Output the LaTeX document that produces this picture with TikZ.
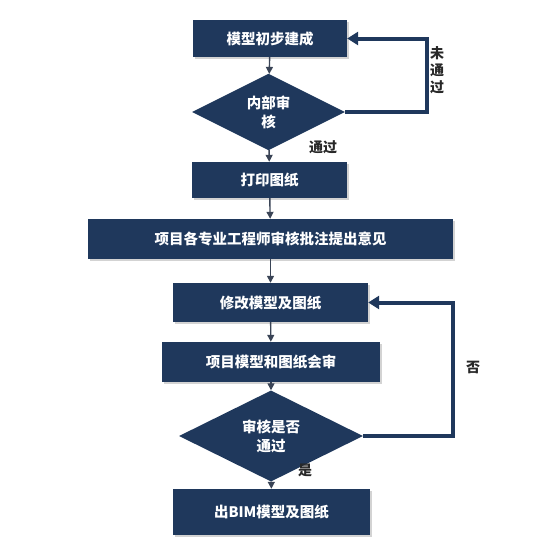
\documentclass[tikz,border=0pt]{standalone}
\usepackage{fontspec}
\setmainfont{Noto Sans CJK SC}
\usepackage{tikz}
\usetikzlibrary{arrows.meta,shapes.geometric,shadows}
\definecolor{navy}{RGB}{31,56,92}
\definecolor{linegray}{RGB}{58,68,86}
\definecolor{labelgray}{RGB}{40,40,40}
\tikzset{
  stepbox/.style={draw=none, fill=navy, text=white, font=\fontsize{14.5}{17}\selectfont\bfseries,
    inner sep=0pt, drop shadow={opacity=0.35, shadow xshift=1.5pt, shadow yshift=-2pt}},
  checkbox/.style={diamond, fill=navy, text=white, font=\fontsize{14.5}{19}\selectfont\bfseries,
    align=center, inner sep=0pt},
  arr/.style={-{Triangle[length=7pt,width=7pt]}, linegray, line width=1.4pt},
  backarr/.style={-{Triangle[length=11pt,width=13pt]}, navy, line width=4pt},
  lbl/.style={text=labelgray, font=\fontsize{14}{17}\selectfont\bfseries, align=center, inner sep=0pt},
}
\begin{document}
\begin{tikzpicture}[x=1pt,y=-1pt]
  \useasboundingbox (0,0) rectangle (556,546);
  % main column
  \node[stepbox, minimum width=154pt, minimum height=37pt] (build) at (270,38.5) {模型初步建成};
  \node[checkbox, minimum width=153pt, minimum height=63pt] (inner) at (268.5,112) {内部审\\核};
  \node[stepbox, minimum width=155pt, minimum height=36pt] (print) at (269.5,180) {打印图纸};
  \node[stepbox, minimum width=365pt, minimum height=40pt] (check) at (270.5,239) {项目各专业工程师审核批注提出意见};
  \node[stepbox, minimum width=195pt, minimum height=39pt] (modify) at (270.5,302.5) {修改模型及图纸};
  \node[stepbox, minimum width=218pt, minimum height=40pt] (joint) at (271,362) {项目模型和图纸会审};
  \node[checkbox, minimum width=184pt, minimum height=62pt] (pass) at (271,436) {审核是否\\通过};
  \node[stepbox, minimum width=197pt, minimum height=46pt] (output) at (271.5,512) {出BIM模型及图纸};
  % downward arrows
  \draw[arr] (build) -- (inner);
  \draw[arr] (inner) -- (print);
  \draw[arr] (print) -- (check);
  \draw[arr] (check) -- (modify);
  \draw[arr] (modify) -- (joint);
  \draw[arr] (joint) -- (pass);
  \draw[arr] (pass) -- (output);
  % loops back
  \draw[backarr] (inner.east) -- ++(82,0) |- (build.east);
  \draw[backarr] (pass.east) -- ++(90,0) |- (modify.east);
  % labels
  \node[lbl] (nopass) at (437,70) {未\\通\\过};
  \node[lbl] (yespass) at (323,147) {通过};
  \node[lbl] (no) at (473,367) {否};
  \node[lbl] (yes) at (305,470) {是};
\end{tikzpicture}
\end{document}
